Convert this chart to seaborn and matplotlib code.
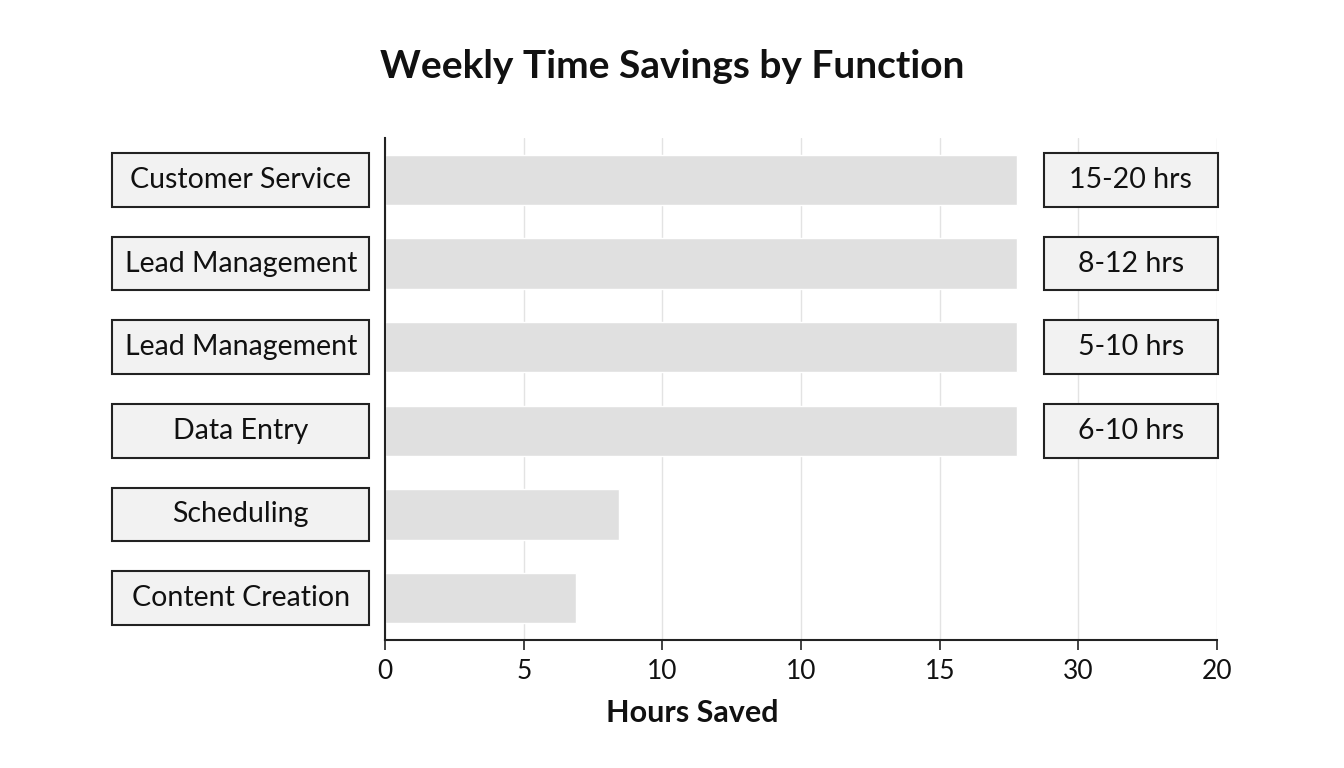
import numpy as np
import pandas as pd
import matplotlib
matplotlib.use("Agg")
import matplotlib.pyplot as plt
import seaborn as sns
from matplotlib.patches import Rectangle

# Chart data
functions = ["Customer Service", "Lead Management", "Lead Management",
             "Data Entry", "Scheduling", "Content Creation"]
bar_lengths = [22.8, 22.8, 22.8, 22.8, 8.45, 6.9]
value_labels = ["15-20 hrs", "8-12 hrs", "5-10 hrs", "6-10 hrs", None, None]
tick_positions = [0, 5, 10, 15, 20, 25, 30]
tick_labels = ["0", "5", "10", "10", "15", "30", "20"]

df = pd.DataFrame({
    "row": [f"r{i}" for i in range(len(functions))],
    "hours": bar_lengths,
})

sns.set_theme(style="white")
plt.rcParams['font.family'] = ['Lato', 'DejaVu Sans']

fig = plt.figure(figsize=(13.44, 7.68), dpi=100)
ax = fig.add_axes([0.2865, 0.1667, 0.619, 0.6536])

sns.barplot(data=df, x="hours", y="row", color="#e0e0e0", saturation=1,
            width=0.6, ax=ax, zorder=2)

ax.set_xlim(0, 30)
ax.set_ylim(5.5, -0.5)
ax.set_xticks(tick_positions)
ax.set_xticklabels(tick_labels, fontsize=19, color="#111111")
ax.set_yticks([])
ax.set_ylabel("")
ax.set_xlabel("")
ax.tick_params(axis="x", bottom=True, length=7, width=1.2, color="#222222", pad=7)
ax.grid(axis="x", color="#e3e3e3", lw=1, zorder=0)

for side in ["top", "right"]:
    ax.spines[side].set_visible(False)
for side in ["left", "bottom"]:
    ax.spines[side].set_color("#222222")
    ax.spines[side].set_linewidth(1.5)

# label boxes on the left and value boxes on the right
trans = ax.get_yaxis_transform()
box_h = 0.64
for i, name in enumerate(functions):
    ax.add_patch(Rectangle((-0.328, i - box_h / 2), 0.309, box_h, transform=trans,
                           facecolor="#f2f2f2", edgecolor="#222222", lw=1.5,
                           clip_on=False, zorder=3))
    ax.text(-0.1735, i, name, transform=trans, ha="center", va="center",
            fontsize=20.5, color="#111111", zorder=4)
    if value_labels[i]:
        ax.add_patch(Rectangle((0.792, i - box_h / 2), 0.209, box_h, transform=trans,
                               facecolor="#f2f2f2", edgecolor="#222222", lw=1.5,
                               clip_on=False, zorder=3))
        ax.text(0.8965, i, value_labels[i], transform=trans, ha="center", va="center",
                fontsize=20.5, color="#111111", zorder=4)

fig.text(0.5, 0.913, "Weekly Time Savings by Function", ha="center", va="center",
         fontsize=28, fontweight="bold", color="#111111")
fig.text(0.515, 0.072, "Hours Saved", ha="center", va="center",
         fontsize=22, fontweight="bold", color="#111111")

fig.savefig("out.png", dpi=100, facecolor="white")
